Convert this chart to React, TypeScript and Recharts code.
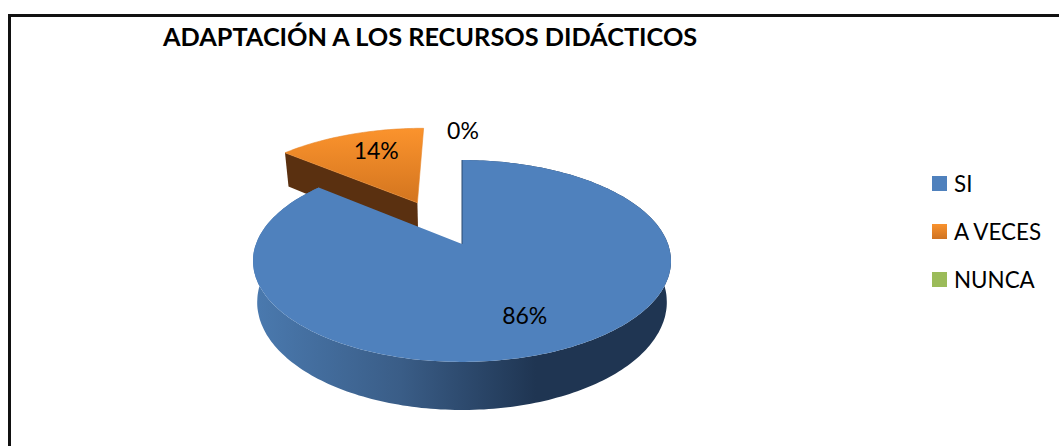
import React from "react";
import { PieChart, Pie, Legend } from "recharts";

const categories = ["SI", "A VECES", "NUNCA"];
const seriesValues = [86, 14, 0];
const chartTitle = "ADAPTACIÓN A LOS RECURSOS DIDÁCTICOS";
const sliceFills = ["#4f81bd", "url(#orangeTop)", "#9bbb59"];
const legendFills = ["#4f81bd", "linear-gradient(#f9922d,#cf7322)", "#9bbb59"];

const chartData = categories.map((name, i) => ({ name, value: seriesValues[i], fill: sliceFills[i] }));

// projection of the pie plane onto the screen
const TILT = 0.1683;
const SQUASH = 0.476;
const DEPTH = 40;
const BASE_SCALE = 0.98;
const EXPLODE = 0.5;
const EXPLODE_SKEW = -0.02;
const ORANGE_SCALE = 1.02;

// label placement: distance from the centre, in radii, plus a small nudge
const labelReach = [0.7, 1.245, 1.445];
const labelNudge = [[-6, 1], [6, -1], [1, 0]];

const FONT = "Lato, Carlito, sans-serif";

type Pt = [number, number];

function project(cx: number, cy: number, R: number, u: number, v: number, bottom: boolean): Pt {
  const w = 1 - TILT * v;
  const s = bottom ? BASE_SCALE : 1;
  return [cx + (R * s * u) / w, cy + (R * SQUASH * v) / w + (bottom ? DEPTH / w : 0)];
}

function toPath(pts: Pt[]): string {
  return "M" + pts.map((p) => `${p[0].toFixed(1)},${p[1].toFixed(1)}`).join("L") + "Z";
}

function sliceGeometry(props: any, explode: number, skew: number, scale: number) {
  const { cx, cy, outerRadius: R, startAngle, endAngle } = props;
  const a0 = ((90 - startAngle) * Math.PI) / 180;
  const a1 = ((90 - endAngle) * Math.PI) / 180;
  const mid = (a0 + a1) / 2;
  const ou = explode * Math.sin(mid) + skew;
  const ov = -explode * Math.cos(mid);
  const arc = (bottom: boolean): Pt[] => {
    const out: Pt[] = [];
    const n = Math.max(2, Math.ceil(Math.abs(a1 - a0) / 0.02));
    for (let i = 0; i <= n; i++) {
      const a = a0 + ((a1 - a0) * i) / n;
      out.push(project(cx, cy, R, ou + scale * Math.sin(a), ov - scale * Math.cos(a), bottom));
    }
    return out;
  };
  const apex = (bottom: boolean) => project(cx, cy, R, ou, ov, bottom);
  return { arc, apex };
}

function BlueSlice(props: any) {
  if (props.name !== categories[0]) return null;
  const { arc, apex } = sliceGeometry(props, 0, 0, 1);
  const top = arc(false);
  const base = arc(true);
  const topApex = apex(false);
  return (
    <g>
      <defs>
        <linearGradient id="blueWall" gradientUnits="userSpaceOnUse" x1="257" x2="667" y1="0" y2="0">
          <stop offset="0" stopColor="#4a79ae" />
          <stop offset="0.35" stopColor="#3a5d87" />
          <stop offset="0.68" stopColor="#1f3552" />
          <stop offset="1" stopColor="#1f3552" />
        </linearGradient>
      </defs>
      <path d={toPath([...top, ...base.slice().reverse()])} fill="url(#blueWall)" />
      <path d={toPath([topApex, ...top])} fill={props.fill} />
      <line x1={top[0][0]} y1={top[0][1]} x2={topApex[0]} y2={topApex[1]} stroke="#2a4a70" strokeWidth={1} />
    </g>
  );
}

function OrangeSlice(props: any) {
  if (props.name !== categories[1]) return null;
  const { arc, apex } = sliceGeometry(props, EXPLODE, EXPLODE_SKEW, ORANGE_SCALE);
  const top = arc(false);
  const base = arc(true);
  const topApex = apex(false);
  const baseApex = apex(true);
  return (
    <g>
      <defs>
        <linearGradient id="orangeTop" x1="0" x2="0" y1="0" y2="1">
          <stop offset="0" stopColor="#fb932d" />
          <stop offset="1" stopColor="#d3751f" />
        </linearGradient>
      </defs>
      <path d={toPath([topApex, baseApex, base[0], top[0]])} fill="#5a3010" />
      <path d={toPath([topApex, ...top])} fill={props.fill} stroke="#e8872a" strokeWidth={0.6} />
    </g>
  );
}

function renderLabel(props: any) {
  const { cx, cy, outerRadius: R, midAngle, percent, index } = props;
  const a = ((90 - midAngle) * Math.PI) / 180;
  const reach = labelReach[index];
  const [x, y] = project(cx, cy, R, reach * Math.sin(a), -reach * Math.cos(a), false);
  return (
    <text
      x={x + labelNudge[index][0]}
      y={y + labelNudge[index][1]}
      textAnchor="middle"
      dominantBaseline="central"
      fontFamily={FONT}
      fontSize={23}
      fill="#000"
    >
      {`${Math.round(percent * 100)}%`}
    </text>
  );
}

function LegendContent() {
  return (
    <div style={{ fontFamily: FONT, fontSize: 22.4, color: "#000" }}>
      {categories.map((c, i) => (
        <div key={c} style={{ display: "flex", alignItems: "center", height: 48 }}>
          <span style={{ width: 15, height: 15, background: legendFills[i], marginRight: 7 }} />
          <span>{c}</span>
        </div>
      ))}
    </div>
  );
}

export default function App() {
  return (
    <div style={{ position: "absolute", left: 0, top: 0, width: 1059, height: 446, overflow: "hidden", background: "#fff" }}>
      <div
        style={{
          position: "absolute",
          left: 8,
          top: 14,
          width: 1100,
          height: 500,
          border: "3px solid #111",
          boxSizing: "content-box",
        }}
      />
      <div
        style={{
          position: "absolute",
          left: 163,
          top: 21,
          fontFamily: FONT,
          fontWeight: 700,
          fontSize: 25.3,
          whiteSpace: "nowrap",
          color: "#000",
        }}
      >
        {chartTitle}
      </div>
      <div style={{ position: "absolute", left: 0, top: 0 }}>
        <PieChart width={1059} height={446} margin={{ top: 0, right: 0, bottom: 0, left: 0 }}>
          <Pie
            data={chartData}
            dataKey="value"
            nameKey="name"
            cx={462}
            cy={244}
            outerRadius={206}
            startAngle={90}
            endAngle={-270}
            stroke="none"
            legendType="none"
            isAnimationActive={false}
            shape={OrangeSlice}
          />
          <Pie
            data={chartData}
            dataKey="value"
            nameKey="name"
            cx={462}
            cy={244}
            outerRadius={206}
            startAngle={90}
            endAngle={-270}
            stroke="none"
            isAnimationActive={false}
            shape={BlueSlice}
            label={renderLabel}
            labelLine={false}
          />
          <Legend
            content={<LegendContent />}
            layout="vertical"
            wrapperStyle={{ position: "absolute", left: 932, top: 159, width: 127, bottom: "auto" }}
          />
        </PieChart>
      </div>
    </div>
  );
}
